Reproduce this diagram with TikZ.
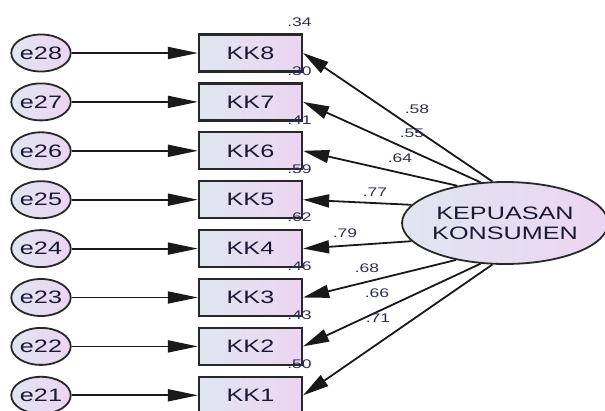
\documentclass[tikz,border=0pt]{standalone}
\usepackage{fontspec}
\setmainfont{Liberation Sans}
\usepackage{graphicx}
\usetikzlibrary{arrows.meta,shapes.geometric}
\newcommand{\wid}[1]{\scalebox{1.4}[1]{#1}}
\definecolor{fillL}{RGB}{224,230,240}
\definecolor{fillR}{RGB}{236,212,242}
\definecolor{edgec}{RGB}{40,40,40}
\definecolor{txt}{RGB}{25,25,55}
\definecolor{coef}{RGB}{45,45,90}
\begin{document}
\begin{tikzpicture}[x=1pt,y=-1pt,
  obs/.style={draw=edgec,line width=2.2pt,left color=fillL,right color=fillR,
    minimum width=103pt,minimum height=37pt,inner sep=0pt,
    font=\fontsize{18}{20}\selectfont,text=txt},
  err/.style={ellipse,draw=edgec,line width=1.8pt,left color=fillL,right color=fillR,
    minimum width=58pt,minimum height=37pt,inner sep=0pt,
    font=\fontsize{18}{20}\selectfont,text=txt},
  lat/.style={ellipse,draw=edgec,line width=1.8pt,left color=fillL,right color=fillR,
    minimum width=196pt,minimum height=82pt,inner sep=0pt,align=center,
    font=\fontsize{18}{20}\selectfont,text=txt},
  errpath/.style={draw=black!90,line width=1.8pt,-{Triangle[length=30pt,width=12pt]}},
  loadpath/.style={draw=black!90,line width=1.8pt,-{Triangle[length=26pt,width=13pt]}},
  coeflbl/.style={font=\fontsize{12.5}{13}\selectfont,text=coef,inner sep=0pt}]
\useasboundingbox (0,0) rectangle (605,410);
\clip (0,0) rectangle (605,410);
\foreach \k/\y in {8/53,7/101.9,6/150.8,5/199.7,4/248.6,3/297.5,2/346.4,1/395.3}{
  \node[obs] (kk\k) at (250.5,\y) {\wid{KK\k}};
  \node[err] (e\k) at (41,\y) {\wid{e2\k}};
  \draw[errpath] (e\k) -- (kk\k);
}
\node[lat] (L) at (505,223) {\wid{KEPUASAN}\\\wid{KONSUMEN}};
\foreach \k/\a in {8/107,7/121,6/142.5,5/169,4/191,3/217.5,2/239,1/253}{
  \draw[loadpath] (L.\a) -- (kk\k.east);
}
% squared multiple correlations
\foreach \k/\y/\t in {8/22/.34,7/71/.30,6/120/.41,5/168.7/.59,4/217.6/.62,3/266.5/.46,2/315.4/.43,1/364.3/.50}{
  \node[coeflbl] (r\k) at (299.5,\y) {\wid{\t}};
}
% loadings
\node[coeflbl] (l8) at (417,109) {\wid{.58}};
\node[coeflbl] (l7) at (412,133) {\wid{.55}};
\node[coeflbl] (l6) at (400,158) {\wid{.64}};
\node[coeflbl] (l5) at (375,192) {\wid{.77}};
\node[coeflbl] (l4) at (345,233) {\wid{.79}};
\node[coeflbl] (l3) at (367,268) {\wid{.68}};
\node[coeflbl] (l2) at (377,293) {\wid{.66}};
\node[coeflbl] (l1) at (378,318) {\wid{.71}};
\end{tikzpicture}
\end{document}
